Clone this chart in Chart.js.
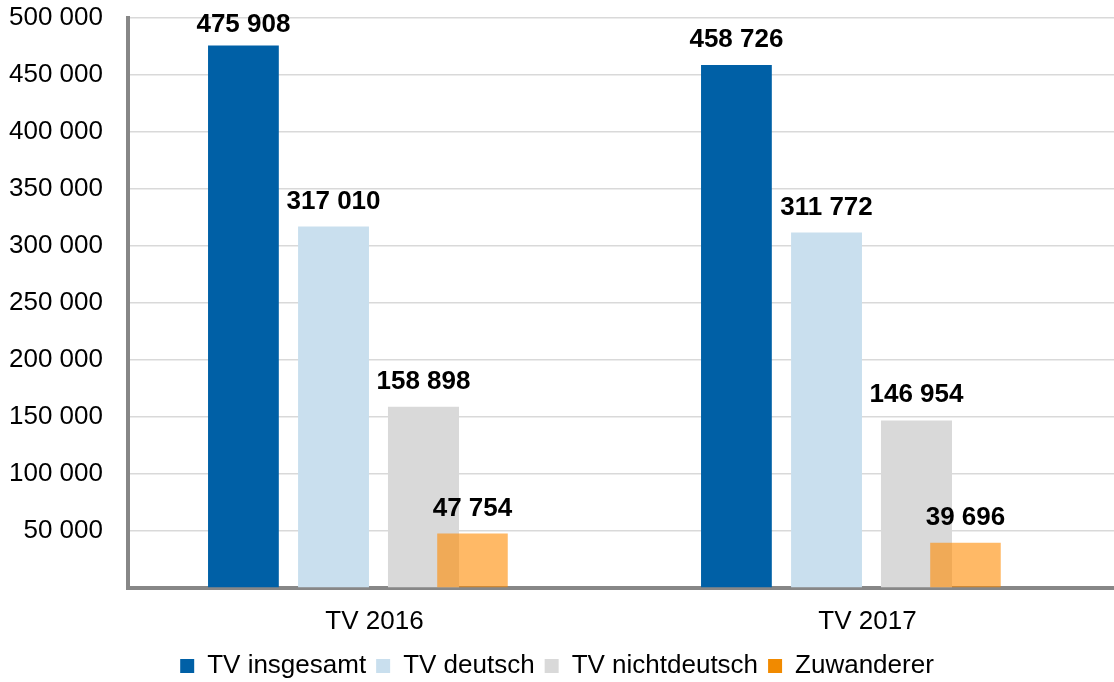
<!DOCTYPE html>
<html>
<head>
<meta charset="utf-8">
<script src="https://cdn.jsdelivr.net/npm/chart.js@4.4.1/dist/chart.umd.min.js"></script>
<style>
  html, body { margin: 0; padding: 0; background: #fff; }
  #wrap { width: 1114px; height: 682px; }
</style>
</head>
<body>
<div id="wrap"><canvas id="chart"></canvas></div>
<script>
// Data
const categories = ['TV 2016', 'TV 2017'];
const seriesNames = ['TV insgesamt', 'TV deutsch', 'TV nichtdeutsch', 'Zuwanderer'];
const insgesamt = [475908, 458726];
const deutsch = [317010, 311772];
const nichtdeutsch = [158898, 146954];
const zuwanderer = [47754, 39696];
const yTicks = [0, 50000, 100000, 150000, 200000, 250000, 300000, 350000, 400000, 450000, 500000];

const colors = ['#0060a6', '#c9dfee', '#d9d9d9', 'rgba(255,138,0,0.6)'];
const legendColors = ['#0060a6', '#c9dfee', '#d9d9d9', '#f18a00'];
const FONT = "'Liberation Sans', Arial, sans-serif";

function fmt(v) {
  return String(v).replace(/\B(?=(\d{3})+(?!\d))/g, ' ');
}

// value labels above the bars
const valueLabels = {
  id: 'valueLabels',
  afterDatasetsDraw(chart) {
    const ctx = chart.ctx;
    ctx.save();
    ctx.font = 'bold 26px ' + FONT;
    ctx.fillStyle = '#000';
    ctx.textAlign = 'center';
    ctx.textBaseline = 'alphabetic';
    chart.data.datasets.forEach((ds, i) => {
      chart.getDatasetMeta(i).data.forEach((bar, j) => {
        const y = Math.max(bar.y - 18, chart.chartArea.top + 14);
        ctx.fillText(fmt(ds.data[j]), bar.x, y);
      });
    });
    ctx.restore();
  }
};

// each series sits on its own (hidden) category axis, so every bar gets its own slot
// like the overlapping excel layout; the orange one is drawn on top
const hiddenX = { type: 'category', offset: true, display: false };

new Chart(document.getElementById('chart'), {
  type: 'bar',
  data: {
    labels: categories,
    datasets: [
      { label: seriesNames[0], data: insgesamt, backgroundColor: colors[0], xAxisID: 'x',
        categoryPercentage: 0.709, barPercentage: 0.81 },
      { label: seriesNames[1], data: deutsch, backgroundColor: colors[1], xAxisID: 'x2',
        categoryPercentage: 0.665, barPercentage: 0.865 },
      { label: seriesNames[2], data: nichtdeutsch, backgroundColor: colors[2], xAxisID: 'x3',
        categoryPercentage: 0.795, barPercentage: 0.725 },
      { label: seriesNames[3], data: zuwanderer, backgroundColor: colors[3], xAxisID: 'x4',
        categoryPercentage: 0.53, barPercentage: 1.08, order: -1 }
    ]
  },
  options: {
    responsive: true,
    maintainAspectRatio: false,
    animation: false,
    layout: { padding: { top: 18, right: 0, bottom: -7, left: 0 } },
    plugins: {
      tooltip: { enabled: false },
      legend: {
        position: 'bottom',
        labels: {
          font: { family: FONT, size: 26 },
          color: '#000',
          boxWidth: 14,
          boxHeight: 14,
          padding: 10,
          sort: (a, b) => a.datasetIndex - b.datasetIndex,
          generateLabels(chart) {
            const items = Chart.defaults.plugins.legend.labels.generateLabels(chart);
            items.forEach(it => {
              it.fillStyle = legendColors[it.datasetIndex];
              it.strokeStyle = legendColors[it.datasetIndex];
              it.lineWidth = 0;
            });
            return items;
          }
        }
      }
    },
    scales: {
      x: {
        offset: true,
        afterFit(scale) { scale.height = 55; },
        grid: { display: false, drawTicks: false },
        border: { display: true, color: '#878787', width: 4 },
        ticks: { font: { family: FONT, size: 26 }, color: '#000', padding: 18 }
      },
      x2: hiddenX,
      x3: hiddenX,
      x4: hiddenX,
      y: {
        min: yTicks[0],
        max: yTicks[yTicks.length - 1],
        afterFit(scale) {
          scale.width = 128;
          scale.paddingTop = 0;
          scale.paddingBottom = 0;
        },
        afterBuildTicks(scale) { scale.ticks = yTicks.map(v => ({ value: v })); },
        grid: { color: '#d9d9d9', lineWidth: 1.5, drawTicks: false },
        border: { display: true, color: '#878787', width: 4 },
        ticks: {
          font: { family: FONT, size: 26 },
          color: '#000',
          padding: 25,
          callback: (v) => v === 0 ? '' : fmt(v)
        }
      }
    }
  },
  plugins: [valueLabels]
});
</script>
</body>
</html>
